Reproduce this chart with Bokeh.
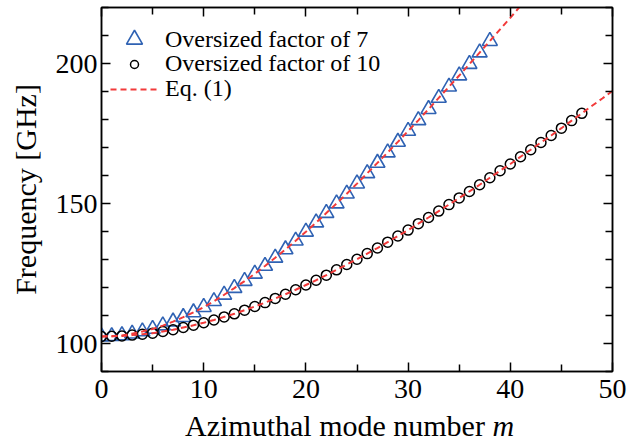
from bokeh.plotting import figure
from bokeh.models import Range1d, FixedTicker, LinearAxis, Legend, LegendItem, Div
from bokeh.layouts import column
from bokeh.embed import file_html
from bokeh.resources import INLINE

# ---------------- data ----------------
tri_m = list(range(0, 39))
tri_f = [102.5, 102.6, 102.9, 103.5, 104.3, 105.2, 106.4, 107.8, 109.4, 111.1,
         113.0, 115.1, 117.4, 119.8, 122.3, 124.9, 127.7, 130.6, 133.6, 136.7,
         139.9, 143.2, 146.6, 150.0, 153.5, 157.1, 160.8, 164.5, 168.2, 172.0,
         175.9, 179.7, 183.7, 187.7, 191.7, 195.7, 199.8, 203.9, 208.0]

circ_m = list(range(0, 48))
circ_f = [102.5, 102.6, 102.7, 103.0, 103.3, 103.7, 104.3, 104.9, 105.7, 106.5,
          107.4, 108.4, 109.5, 110.6, 111.9, 113.2, 114.6, 116.1, 117.6, 119.2,
          120.9, 122.6, 124.4, 126.3, 128.2, 130.1, 132.1, 134.1, 136.2, 138.4,
          140.5, 142.8, 145.0, 147.3, 149.6, 152.0, 154.3, 156.7, 159.2, 161.7,
          164.1, 166.7, 169.2, 171.8, 174.3, 176.9, 179.6, 182.2]

eq7_m = list(range(0, 42))
eq7_f = tri_f + [212.2, 216.3, 220.6]
eq10_m = list(range(0, 51))
eq10_f = circ_f + [184.9, 187.5, 190.2]

x_ticks = [0, 10, 20, 30, 40, 50]
x_minor = [5, 15, 25, 35, 45]
y_ticks = [100, 150, 200]
y_minor = [90, 110, 120, 130, 140, 160, 170, 180, 190, 210, 220]

label_tri = "Oversized factor of 7"
label_circ = "Oversized factor of 10"
label_eq = "Eq. (1)"
x_label = "Azimuthal mode number"
x_label_var = "m"
y_label = "Frequency [GHz]"

FONT = "Liberation Serif"
BLUE = "#2f62b3"
RED = "#f23a3a"

p = figure(width=636, height=410, x_range=Range1d(0, 50), y_range=Range1d(90, 220),
           output_backend="svg", toolbar_location=None,
           min_border_left=101, min_border_right=24, min_border_top=7, min_border_bottom=39)
p.xgrid.visible = False
p.ygrid.visible = False
p.outline_line_color = "black"
p.outline_line_width = 1.5
p.background_fill_color = "white"
p.border_fill_color = "white"


def style_axis(ax, show_labels=True):
    ax.axis_line_color = "black"
    ax.axis_line_width = 1.5
    ax.major_tick_line_color = "black"
    ax.minor_tick_line_color = "black"
    ax.major_tick_line_width = 1.5
    ax.minor_tick_line_width = 1.5
    ax.major_tick_in = 9
    ax.major_tick_out = 0
    ax.minor_tick_in = 7
    ax.minor_tick_out = 0
    if show_labels:
        ax.major_label_text_font = FONT
        ax.major_label_text_font_size = "28px"
        ax.major_label_text_color = "black"
    else:
        ax.major_label_text_font_size = "0px"
        ax.major_label_standoff = 0


xt = FixedTicker(ticks=x_ticks, minor_ticks=x_minor)
yt = FixedTicker(ticks=y_ticks, minor_ticks=y_minor)

p.xaxis.ticker = xt
p.yaxis.ticker = yt
for ax in p.xaxis:
    style_axis(ax)
    ax.major_label_standoff = 8
for ax in p.yaxis:
    style_axis(ax)
    ax.major_label_standoff = 4
    ax.axis_label = y_label
    ax.axis_label_text_font = FONT
    ax.axis_label_text_font_size = "30px"
    ax.axis_label_text_font_style = "normal"
    ax.axis_label_text_color = "black"
    ax.axis_label_standoff = 11

top_ax = LinearAxis(ticker=xt, major_label_overrides={t: "" for t in x_ticks})
style_axis(top_ax, show_labels=False)
p.add_layout(top_ax, "above")
right_ax = LinearAxis(ticker=yt, major_label_overrides={t: "" for t in y_ticks})
style_axis(right_ax, show_labels=False)
p.add_layout(right_ax, "right")

tri_r = p.scatter(tri_m, tri_f, marker="triangle", size=15, fill_alpha=0,
                  line_color=BLUE, line_width=1.6)
circ_r = p.scatter(circ_m, circ_f, marker="circle", size=10, fill_alpha=0,
                   line_color="black", line_width=1.5)
eq7_r = p.line(eq7_m, eq7_f, line_color=RED, line_width=2, line_dash="6 4")
eq10_r = p.line(eq10_m, eq10_f, line_color=RED, line_width=2, line_dash="6 4")


def make_legend(label, renderer, loc, gh):
    return Legend(items=[LegendItem(label=label, renderers=[renderer])],
                  location=loc, glyph_width=48, glyph_height=gh,
                  label_height=gh, label_standoff=7, padding=0, margin=0, spacing=0,
                  border_line_alpha=0, background_fill_alpha=0,
                  label_text_font=FONT, label_text_font_size="24px",
                  label_text_color="black")


p.add_layout(make_legend(label_tri, tri_r, (9, 312), 40))
p.add_layout(make_legend(label_circ, circ_r, (9, 294), 20))
p.add_layout(make_legend(label_eq, eq7_r, (9, 269), 20))

xlabel_html = (
    '<div style="font-family:\'Liberation Serif\';font-size:30px;line-height:30px;'
    'margin-left:185px;margin-top:1px;white-space:nowrap;color:#000">'
    f'{x_label} <i>{x_label_var}</i></div>'
)
xdiv = Div(text=xlabel_html, width=636, height=31, margin=(0, 0, 0, 0))

layout = column(p, xdiv, spacing=0)
open("out.html", "w").write(file_html(layout, INLINE))
